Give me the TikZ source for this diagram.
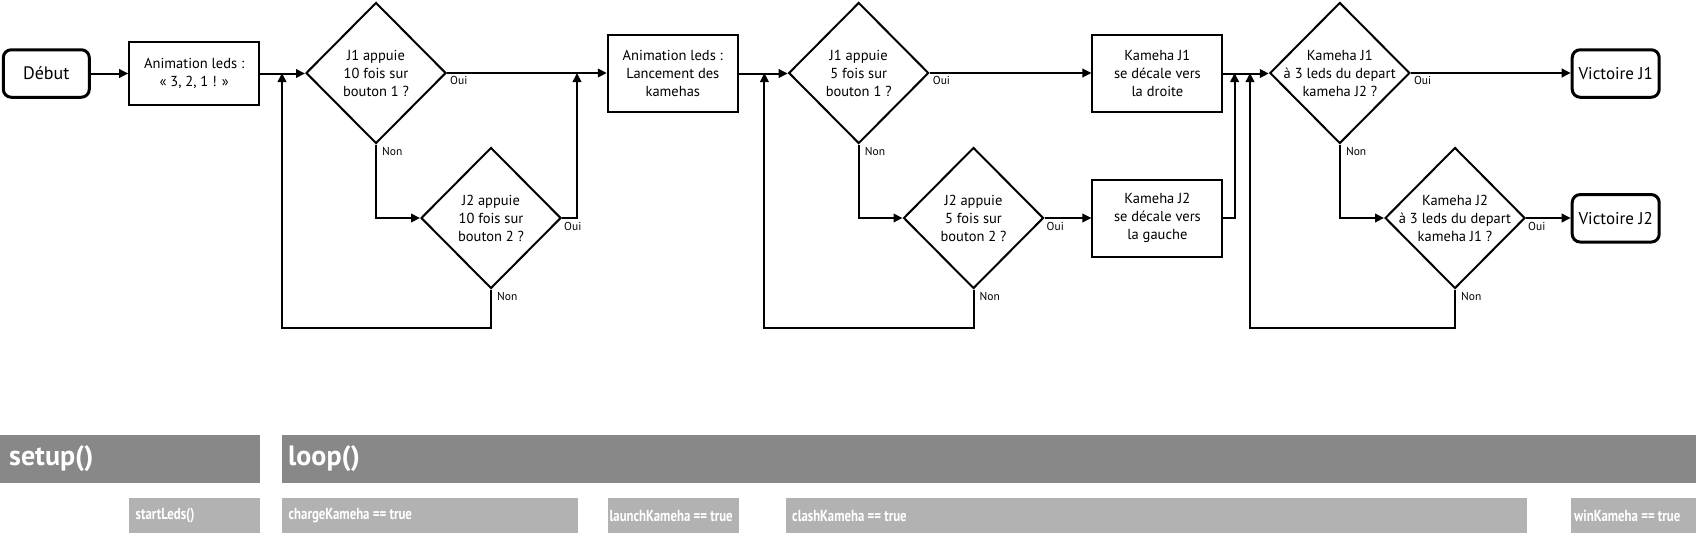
\documentclass[tikz,border=0pt]{standalone}
\usepackage{fontspec}
\setmainfont{PT Sans}
\newfontfamily\condfont{PT Sans}[FakeStretch=0.8]
\usetikzlibrary{shapes.geometric,arrows.meta}
\definecolor{bardark}{RGB}{136,136,136}
\definecolor{barlight}{RGB}{178,178,178}
\tikzset{
  txt/.style={font=\fontsize{14.5}{18}\selectfont, align=center, text=black},
  term/.style={draw, line width=3pt, rounded corners=8pt, minimum width=86pt, minimum height=47.5pt, inner sep=0pt, font=\fontsize{18}{22}\selectfont},
  proc/.style={draw, line width=2pt, minimum width=130pt, inner sep=0pt, txt},
  dec/.style={diamond, draw, line width=2pt, minimum width=140pt, minimum height=141pt, inner sep=0pt},
  lab/.style={font=\fontsize{11.5}{13}\selectfont, inner sep=0pt},
  arr/.style={-{Triangle[length=9pt,width=8.5pt]}, line width=2pt},
  bigbar/.style={font=\fontsize{28}{30}\selectfont\bfseries, text=white, inner sep=0pt, anchor=west},
  smallbar/.style={font=\condfont\fontsize{16}{18}\selectfont\bfseries, text=white, inner sep=0pt, anchor=west},
}
\begin{document}
\begin{tikzpicture}[x=1pt,y=-1pt]
\useasboundingbox (0,0) rectangle (1696,533);
\fill[white] (0,0) rectangle (1696,533);

% top row
\node[term] (deb) at (46.3,73.5) {Début};
\node[proc, minimum height=63.2pt] (a1) at (194.2,73.5) {Animation leds :\\« 3, 2, 1 ! »};
\node[dec, label={[txt,name=d1t]center:{J1 appuie\\10 fois sur\\bouton 1 ?}}] (d1) at (376,73) {};
\node[dec, label={[txt,name=d2t]center:{J2 appuie\\10 fois sur\\bouton 2 ?}}] (d2) at (491,218) {};
\node[proc, minimum height=76.6pt] (a2) at (672.8,73.5) {Animation leds :\\Lancement des\\kamehas};
\node[dec, label={[txt,name=d3t]center:{J1 appuie\\5 fois sur\\bouton 1 ?}}] (d3) at (858.7,73) {};
\node[dec, label={[txt,name=d4t]center:{J2 appuie\\5 fois sur\\bouton 2 ?}}] (d4) at (973.5,218) {};
\node[proc, minimum height=76.6pt] (k1) at (1157.4,73.5) {Kameha J1\\se décale vers\\la droite};
\node[proc, minimum height=76.6pt] (k2) at (1157.4,218.2) {Kameha J2\\se décale vers\\la gauche};
\node[dec, label={[txt,name=d5t]center:{Kameha J1\\à 3 leds du depart\\kameha J2 ?}}] (d5) at (1339.8,73) {};
\node[dec, label={[txt,name=d6t]center:{Kameha J2\\à 3 leds du depart\\kameha J1 ?}}] (d6) at (1455,218) {};
\node[term, minimum width=87pt, font=\fontsize{17}{21}\selectfont] (v1) at (1615.7,73.5) {Victoire J1};
\node[term, minimum width=87pt, font=\fontsize{17}{21}\selectfont] (v2) at (1615.7,218.3) {Victoire J2};

% junction coordinates
\coordinate (m1) at (577,73);
\coordinate (l1) at (282,328);
\coordinate (l2) at (764.4,328);
\coordinate (m2) at (1234.6,73);
\coordinate (l3) at (1250,328);

% connectors
\draw[arr] (deb.east) -- (a1.west);
\draw[arr] (a1.east) -- (a1.east -| d1.west);
\draw[arr] (d1.east) -- (d1.east -| a2.west);
\draw[arr] (d1.south) |- (d2.west);
\draw[arr] (d2.east) -| (m1);
\draw[arr] (d2.south) |- (l1) -- (l1 |- d1.west);

\draw[arr] (a2.east) -- (a2.east -| d3.west);
\draw[arr] (d3.east) -- (d3.east -| k1.west);
\draw[arr] (d3.south) |- (d4.west);
\draw[arr] (d4.east) -- (d4.east -| k2.west);
\draw[arr] (d4.south) |- (l2) -- (l2 |- d3.west);

\draw[arr] (k1.east) -- (k1.east -| d5.west);
\draw[arr] (k2.east) -| (m2);
\draw[arr] (d5.east) -- (d5.east -| v1.west);
\draw[arr] (d5.south) |- (d6.west);
\draw[arr] (d6.east) -- (d6.east -| v2.west);
\draw[arr] (d6.south) |- (l3) -- (l3 |- d5.west);

% Oui / Non labels
\node[lab, anchor=north west] (o1) at ([xshift=3pt,yshift=-3pt]d1.east) {Oui};
\node[lab, anchor=north west] (n1) at ([xshift=6pt,yshift=-3pt]d1.south) {Non};
\node[lab, anchor=north west] (o2) at ([xshift=2pt,yshift=-4pt]d2.east) {Oui};
\node[lab, anchor=north west] (n2) at ([xshift=6pt,yshift=-3pt]d2.south) {Non};
\node[lab, anchor=north west] (o3) at ([xshift=3pt,yshift=-3pt]d3.east) {Oui};
\node[lab, anchor=north west] (n3) at ([xshift=6pt,yshift=-3pt]d3.south) {Non};
\node[lab, anchor=north west] (o4) at ([xshift=2pt,yshift=-4pt]d4.east) {Oui};
\node[lab, anchor=north west] (n4) at ([xshift=6pt,yshift=-3pt]d4.south) {Non};
\node[lab, anchor=north west] (o5) at ([xshift=3pt,yshift=-3pt]d5.east) {Oui};
\node[lab, anchor=north west] (n5) at ([xshift=6pt,yshift=-3pt]d5.south) {Non};
\node[lab, anchor=north west] (o6) at ([xshift=2pt,yshift=-4pt]d6.east) {Oui};
\node[lab, anchor=north west] (n6) at ([xshift=6pt,yshift=-3pt]d6.south) {Non};

% bottom bars
\fill[bardark] (0,435.3) rectangle (260,482.7);
\fill[bardark] (282,435.3) rectangle (1696,482.7);
\fill[barlight] (128.5,498) rectangle (260,533);
\fill[barlight] (282,498) rectangle (577.5,533);
\fill[barlight] (608,498) rectangle (739,533);
\fill[barlight] (786,498) rectangle (1527,533);
\fill[barlight] (1571,498) rectangle (1696,533);

\node[bigbar] (bs) at (9,459) {setup()};
\node[bigbar] (bl) at (288,459) {loop()};
\node[smallbar] (s1) at (135.5,516) {startLeds()};
\node[smallbar] (s2) at (288.5,516) {chargeKameha == true};
\node[smallbar] (s3) at (609.5,516) {launchKameha == true};
\node[smallbar] (s4) at (792,516) {clashKameha == true};
\node[smallbar] (s5) at (1574,516) {winKameha == true};
\end{tikzpicture}
\end{document}
